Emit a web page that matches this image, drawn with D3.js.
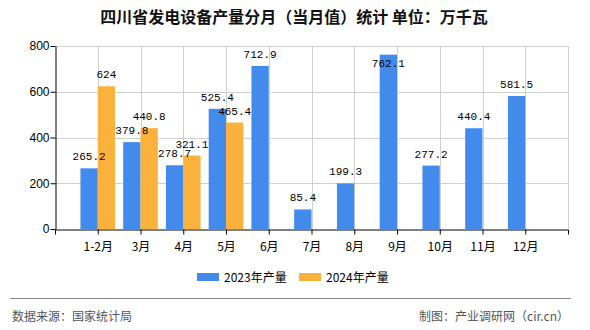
<!DOCTYPE html>
<html><head><meta charset="utf-8">
<script src="https://cdn.jsdelivr.net/npm/d3@7"></script>
<style>body{margin:0;background:#fff}svg{display:block}</style>
</head><body>
<svg id="c" width="590" height="330"></svg>
<script>
const categories = ["1-2月","3月","4月","5月","6月","7月","8月","9月","10月","11月","12月"];
const values2023 = [265.2,379.8,278.7,525.4,712.9,85.4,199.3,762.1,277.2,440.4,581.5];
const values2024 = [624,440.8,321.1,465.4,null,null,null,null,null,null,null];
const seriesNames = ["2023年产量","2024年产量"];
const yTicks = [0,200,400,600,800];
const titleText = "四川省发电设备产量分月（当月值）统计 单位：万千瓦";
const sourceText = "数据来源：国家统计局";
const creditText = "制图：产业调研网（cir.cn）";

const colors = ["#428BEC","#FBB23C"];
const svg = d3.select("#c");
const L = 55, R = 568, T = 46, B = 229;
const x = d3.scalePoint().domain(categories).range([L, R]).padding(1);
const y = d3.scaleLinear().domain([0, 800]).range([B, T]);
const bw = x.step() * 0.405;
const cjk = "'Noto Sans CJK SC','Noto Sans',sans-serif";

svg.append("text").attr("x", 294).attr("y", 23).attr("text-anchor", "middle")
  .attr("font-family", cjk).attr("font-size", 16).attr("font-weight", "bold").attr("fill", "#111")
  .text(titleText);

// grid
svg.append("g").selectAll("line").data(yTicks.slice(1)).join("line")
  .attr("x1", L).attr("x2", R).attr("y1", d => Math.round(y(d)) + 0.5).attr("y2", d => Math.round(y(d)) + 0.5)
  .attr("stroke", "#d0d0d0");
svg.append("g").selectAll("line").data(categories.map(c => x(c)).concat([R])).join("line")
  .attr("x1", d => Math.round(d) + 0.5).attr("x2", d => Math.round(d) + 0.5).attr("y1", T).attr("y2", B)
  .attr("stroke", "#d0d0d0");

// bars
const gb = svg.append("g");
[values2023, values2024].forEach((vals, si) => {
  const data = categories.map((c, i) => ({c, v: vals[i]})).filter(d => d.v != null);
  gb.selectAll(null).data(data).join("rect")
    .attr("x", d => si === 0 ? x(d.c) - bw : x(d.c))
    .attr("width", bw)
    .attr("y", d => y(d.v)).attr("height", d => y(0) - y(d.v))
    .attr("fill", colors[si]);
});
// labels
[values2023, values2024].forEach((vals, si) => {
  const data = categories.map((c, i) => ({c, v: vals[i]})).filter(d => d.v != null);
  svg.append("g").selectAll("text").data(data).join("text")
    .attr("x", d => (si === 0 ? x(d.c) - bw / 2 : x(d.c) + bw / 2))
    .attr("y", d => { const yt = y(d.v); return (yt - 17 < T) ? yt + 12 : yt - 8; })
    .attr("text-anchor", "middle")
    .attr("font-family", "'Liberation Mono',monospace").attr("font-size", 11).attr("fill", "#000")
    .text(d => d.v);
});

// y axis
const ya = svg.append("g").attr("transform", `translate(${L + 0.5},0)`)
  .call(d3.axisLeft(y).tickValues(yTicks).tickSize(5).tickSizeOuter(0));
ya.select(".domain").attr("stroke", "#000");
ya.selectAll(".tick line").attr("stroke", "#000");
ya.selectAll("text").attr("font-family", "'Liberation Sans',Arial,sans-serif").attr("font-size", 12).attr("fill", "#000").attr("x", -6);

// x axis
const xa = svg.append("g").attr("transform", `translate(0,${B + 0.5})`)
  .call(d3.axisBottom(x).tickSize(5).tickSizeOuter(5));
xa.select(".domain").attr("stroke", "#000");
xa.selectAll(".tick line").attr("stroke", "#000");
xa.selectAll("text").attr("font-family", cjk).attr("font-size", 12).attr("fill", "#000").attr("dy", "1.1em");

// legend
const lg = svg.append("g");
const lx = [197, 299];
seriesNames.forEach((n, i) => {
  lg.append("rect").attr("x", lx[i]).attr("y", 273).attr("width", 22).attr("height", 8).attr("fill", colors[i]);
  lg.append("text").attr("x", lx[i] + 27).attr("y", 282).attr("font-family", cjk).attr("font-size", 12).attr("fill", "#000").text(n);
});

// footer
svg.append("line").attr("x1", 10).attr("x2", 571).attr("y1", 298.5).attr("y2", 298.5).attr("stroke", "#888");
svg.append("text").attr("x", 12).attr("y", 321).attr("font-family", cjk).attr("font-size", 12).attr("fill", "#555").text(sourceText);
svg.append("text").attr("x", 569).attr("y", 321).attr("text-anchor", "end").attr("font-family", cjk).attr("font-size", 12).attr("fill", "#555").text(creditText);
</script>
</body></html>
